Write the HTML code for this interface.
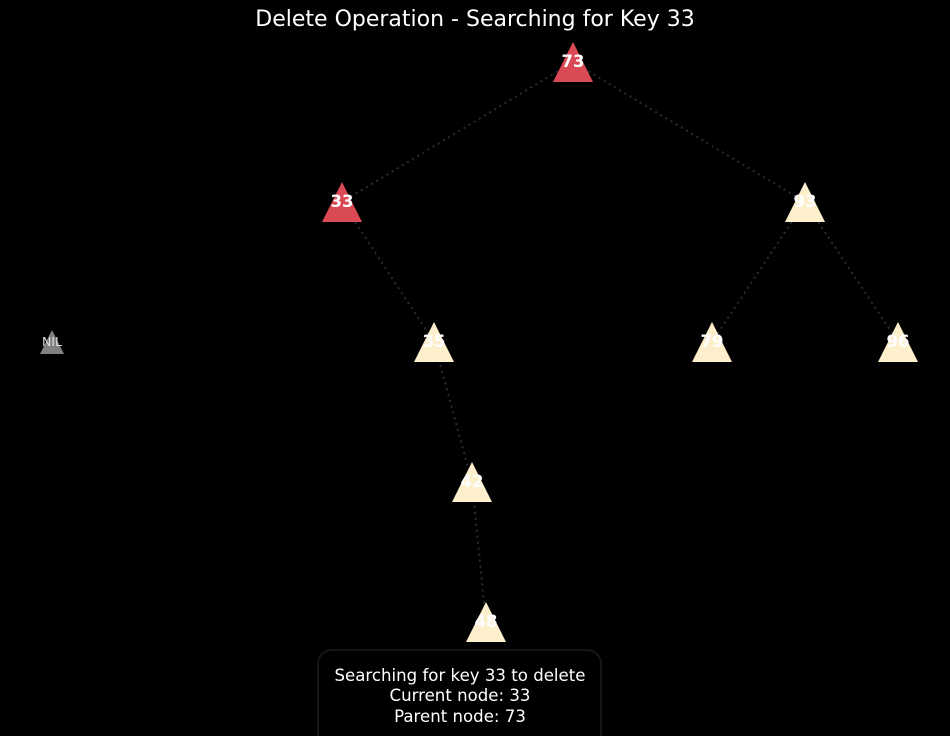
<!DOCTYPE html>
<html><head><meta charset="utf-8"><style>
html,body{margin:0;padding:0;background:#000;}
svg{display:block;}
text{font-family:"DejaVu Sans","Liberation Sans",sans-serif;}
</style></head><body>
<svg width="950" height="736" viewBox="0 0 950 736" xmlns="http://www.w3.org/2000/svg">
<rect width="950" height="736" fill="#000"/>
<text x="475" y="26" fill="#fff" font-size="22" text-anchor="middle">Delete Operation - Searching for Key 33</text>
<g stroke="#2a2a3a" stroke-width="2" stroke-dasharray="2,4" fill="none">
<line x1="573" y1="62" x2="342" y2="202"/>
<line x1="573" y1="62" x2="805" y2="202"/>
<line x1="342" y1="202" x2="434" y2="342"/>
<line x1="805" y1="202" x2="712" y2="342"/>
<line x1="805" y1="202" x2="898" y2="342"/>
<line x1="434" y1="342" x2="472" y2="482"/>
<line x1="472" y1="482" x2="486" y2="622"/>
</g>
<g>
<polygon points="573,42 553,82 593,82" fill="#d94a55"/>
<polygon points="342,182 322,222 362,222" fill="#d94a55"/>
<polygon points="805,182 785,222 825,222" fill="#fdefcc"/>
<polygon points="434,322 414,362 454,362" fill="#fdefcc"/>
<polygon points="712,322 692,362 732,362" fill="#fdefcc"/>
<polygon points="898,322 878,362 918,362" fill="#fdefcc"/>
<polygon points="472,462 452,502 492,502" fill="#fdefcc"/>
<polygon points="486,602 466,642 506,642" fill="#fdefcc"/>
<polygon points="52,330 40,354 64,354" fill="#808080"/>
</g>
<g fill="#fff" font-size="16.5" font-weight="bold" text-anchor="middle">
<text x="573" y="67">73</text>
<text x="342" y="207">33</text>
<text x="805" y="207">93</text>
<text x="434" y="347">35</text>
<text x="712" y="347">79</text>
<text x="898" y="347">96</text>
<text x="472" y="487">42</text>
<text x="486" y="627">48</text>
</g>
<text x="52" y="346" fill="#ddd" font-size="12.5" text-anchor="middle">NIL</text>
<rect x="318" y="650" width="283" height="100" rx="14" fill="#000" stroke="#1c1c1c" stroke-width="1.5"/>
<g fill="#fff" font-size="16.6" text-anchor="middle">
<text x="460" y="681">Searching for key 33 to delete</text>
<text x="460" y="701">Current node: 33</text>
<text x="460" y="722">Parent node: 73</text>
</g>
</svg>
</body></html>
